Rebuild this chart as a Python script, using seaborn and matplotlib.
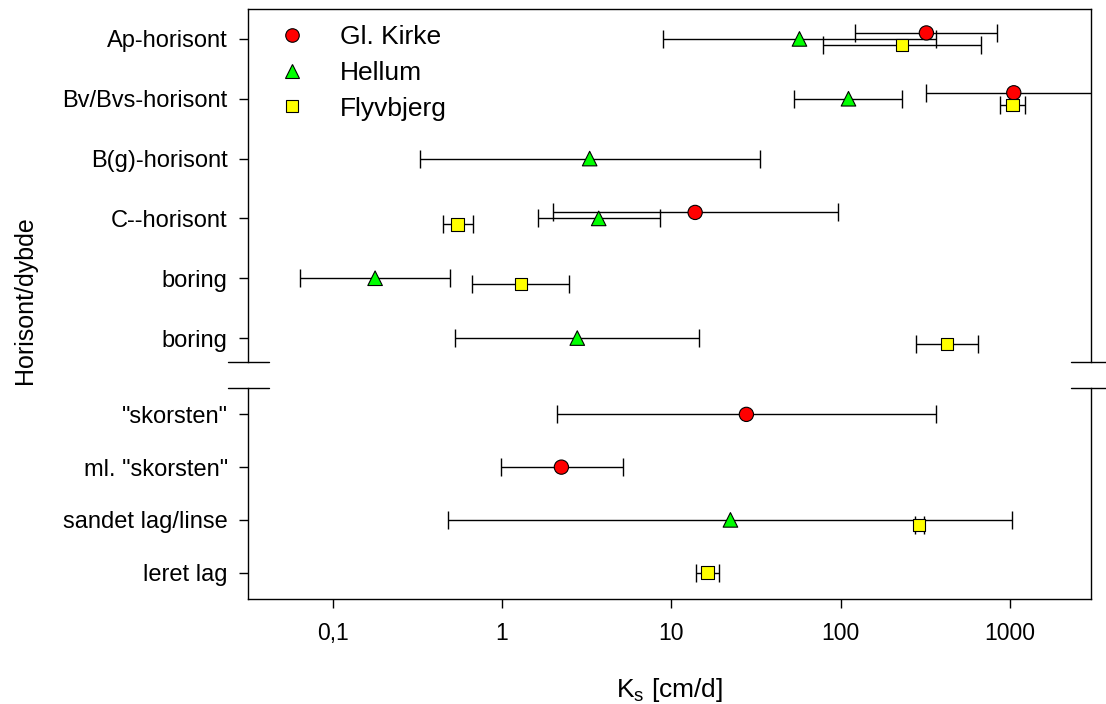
import matplotlib
matplotlib.use("Agg")
import matplotlib.pyplot as plt
from matplotlib.lines import Line2D
import seaborn as sns
import pandas as pd

# categories top to bottom; first 6 above the axis break, last 4 below
categories = ['Ap-horisont', 'Bv/Bvs-horisont', 'B(g)-horisont', 'C--horisont',
              'boring', 'boring',
              '"skorsten"', 'ml. "skorsten"', 'sandet lag/linse', 'leret lag']
n_upper = 6

sites = ['Gl. Kirke', 'Hellum', 'Flyvbjerg']

kirke_rows = [0, 1, 3, 6, 7]
kirke_ks = [320, 1050, 13.8, 27.7, 2.24]
kirke_lo = [121, 320, 2.0, 2.1, 0.98]
kirke_hi = [838, 3500, 96, 364, 5.16]

hellum_rows = [0, 1, 2, 3, 4, 5, 8]
hellum_ks = [57, 111, 3.29, 3.72, 0.178, 2.78, 22.3]
hellum_lo = [8.9, 53, 0.328, 1.62, 0.0645, 0.526, 0.481]
hellum_hi = [364, 231, 33.2, 8.6, 0.492, 14.5, 1030]

flyv_rows = [0, 1, 3, 4, 5, 8, 9]
flyv_ks = [229, 1030, 0.547, 1.29, 422, 290, 16.3]
flyv_lo = [79, 871, 0.449, 0.662, 279, 273, 14.0]
flyv_hi = [671, 1228, 0.672, 2.50, 642, 311, 19.0]

xtick_vals = [0.1, 1, 10, 100, 1000]
xtick_labels = ['0,1', '1', '10', '100', '1000']

frames = []
for site, rows, ks, lo, hi in [('Gl. Kirke', kirke_rows, kirke_ks, kirke_lo, kirke_hi),
                               ('Hellum', hellum_rows, hellum_ks, hellum_lo, hellum_hi),
                               ('Flyvbjerg', flyv_rows, flyv_ks, flyv_lo, flyv_hi)]:
    frames.append(pd.DataFrame({'site': site, 'row': rows, 'ks': ks, 'lo': lo, 'hi': hi}))
df = pd.concat(frames, ignore_index=True)

# small vertical dodge where a row holds more than one site
dodge = {'Gl. Kirke': -0.1, 'Hellum': 0.0, 'Flyvbjerg': 0.1}
shared = df.groupby('row')['site'].transform('count') > 1
df['y'] = df['row'] + df['site'].map(dodge).where(shared, 0.0)

colors = {'Gl. Kirke': '#FF0000', 'Hellum': '#00FF00', 'Flyvbjerg': '#FFFF00'}
markers = {'Gl. Kirke': 'o', 'Hellum': '^', 'Flyvbjerg': 's'}
msize = {'Gl. Kirke': 105, 'Hellum': 110, 'Flyvbjerg': 80}

sns.set_theme(style='ticks')
plt.rcParams['font.family'] = ['Liberation Sans', 'DejaVu Sans']
plt.rcParams['mathtext.fontset'] = 'custom'
plt.rcParams['mathtext.rm'] = 'Liberation Sans'
plt.rcParams['mathtext.it'] = 'Liberation Sans'
plt.rcParams['text.color'] = 'black'
plt.rcParams['axes.labelcolor'] = 'black'
plt.rcParams['xtick.color'] = 'black'
plt.rcParams['ytick.color'] = 'black'

fig = plt.figure(figsize=(11.06, 7.04), dpi=100)
ax_top = fig.add_axes([248 / 1106, 1 - 362 / 704, 843 / 1106, 353 / 704])
ax_bot = fig.add_axes([248 / 1106, 1 - 599 / 704, 843 / 1106, 211 / 704])

for ax, sub in [(ax_top, df[df['row'] < n_upper]), (ax_bot, df[df['row'] >= n_upper])]:
    for site in sites:
        d = sub[sub['site'] == site]
        ax.errorbar(d['ks'], d['y'], xerr=[d['ks'] - d['lo'], d['hi'] - d['ks']],
                    fmt='none', ecolor='black', elinewidth=1.0, capsize=6.2,
                    capthick=1.0, zorder=2)
    sns.scatterplot(data=sub, x='ks', y='y', hue='site', style='site', size='site',
                    palette=colors, markers=markers, sizes=msize, hue_order=sites,
                    style_order=sites, size_order=sites, edgecolor='black',
                    linewidth=0.8, legend=False, zorder=3, ax=ax)
    ax.set_xscale('log')
    ax.set_xlim(10 ** -1.5, 3000)
    ax.set_xlabel('')
    ax.set_ylabel('')
    for s in ax.spines.values():
        s.set_linewidth(1.0)
        s.set_color('black')
    ax.tick_params(axis='both', which='major', length=6.2, width=1.0, color='black',
                   labelcolor='black', direction='out')
    ax.tick_params(axis='y', labelsize=17, pad=8.4)
    ax.tick_params(axis='x', which='minor', length=0)

ax_top.set_ylim(n_upper - 0.6, -0.5)
ax_top.set_yticks(range(n_upper))
ax_top.set_yticklabels(categories[:n_upper])
ax_top.spines['bottom'].set_visible(False)
ax_top.tick_params(axis='x', which='both', bottom=False, labelbottom=False)

ax_bot.set_ylim(len(categories) - 0.5, n_upper - 0.5)
ax_bot.set_yticks(range(n_upper, len(categories)))
ax_bot.set_yticklabels(categories[n_upper:])
ax_bot.spines['top'].set_visible(False)
ax_bot.set_xticks(xtick_vals)
ax_bot.set_xticklabels(xtick_labels)
ax_bot.tick_params(axis='x', labelsize=16.5, pad=10.6)

# axis break marks
half = 20.5 / 843
for ax, yy in [(ax_top, 0.0), (ax_bot, 1.0)]:
    for xx in (0.0, 1.0):
        ax.plot([xx - half, xx + half], [yy, yy], color='black', lw=1.0,
                transform=ax.transAxes, clip_on=False)

handles = [Line2D([], [], linestyle='none', marker=markers[s],
                  markersize=(msize[s] ** 0.5) * 0.95,
                  markerfacecolor=colors[s], markeredgecolor='black', markeredgewidth=0.8)
           for s in sites]
leg = ax_top.legend(handles, sites, loc='upper left', bbox_to_anchor=(0.0365, 0.955),
                    frameon=False, fontsize=19, handlelength=1.0, handletextpad=1.32,
                    labelspacing=0.45, borderpad=0, borderaxespad=0)
for t in leg.get_texts():
    t.set_color('black')

fig.text(669.5 / 1106, 1 - 697 / 704, r'K$_\mathregular{s}$ [cm/d]', ha='center', va='baseline',
         fontsize=19, color='black')
fig.text(25 / 1106, 1 - 300 / 704, 'Horisont/dybde', rotation=90, ha='center', va='center',
         fontsize=18, color='black')

fig.savefig('out.png', dpi=100)
